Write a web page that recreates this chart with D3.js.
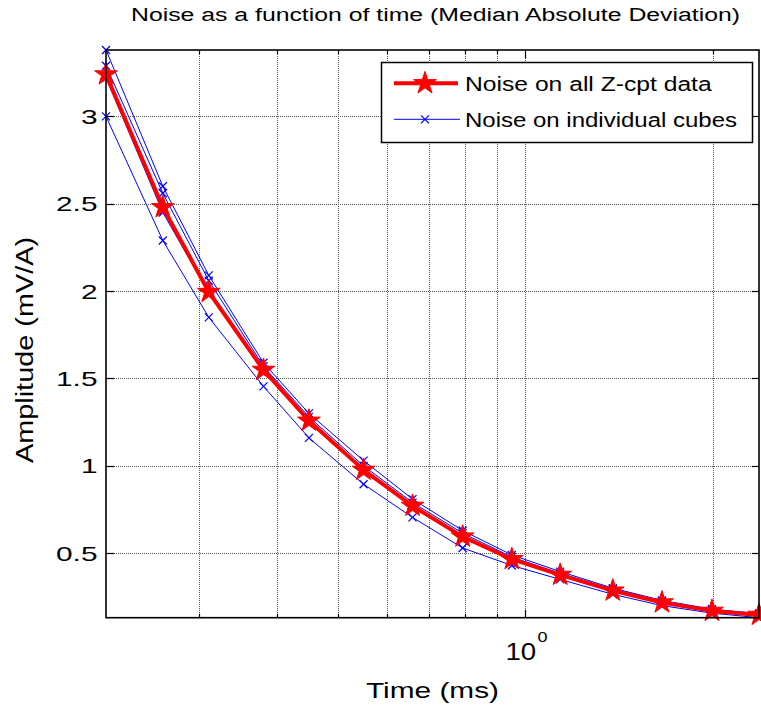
<!DOCTYPE html>
<html>
<head>
<meta charset="utf-8">
<script src="https://cdn.jsdelivr.net/npm/d3@7"></script>
<style>
  html, body { margin: 0; padding: 0; background: #fff; }
  svg { display: block; font-family: "Liberation Sans", Arial, Helvetica, sans-serif; }
</style>
</head>
<body>
<svg id="chart" width="761" height="706"></svg>
<script>
// ---- data ----
const times = [0.2124, 0.262, 0.3105, 0.380, 0.4495, 0.550, 0.659, 0.793, 0.951, 1.137, 1.381, 1.656, 1.992, 2.37];
const noiseAll = [3.24, 2.48, 1.995, 1.549, 1.258, 0.977, 0.771, 0.595, 0.466, 0.376, 0.286, 0.218, 0.170, 0.147];
const cube1 = [3.38, 2.60, 2.09, 1.59, 1.30, 1.03, 0.81, 0.63, 0.49, 0.395, 0.30, 0.23, 0.18, 0.155];
const cube2 = [3.29, 2.56, 2.06, 1.57, 1.28, 1.00, 0.79, 0.615, 0.478, 0.385, 0.294, 0.224, 0.175, 0.151];
const cube3 = [3.22, 2.45, 1.99, 1.55, 1.25, 0.975, 0.772, 0.598, 0.466, 0.376, 0.285, 0.217, 0.169, 0.146];
const cube4 = [3.00, 2.29, 1.85, 1.455, 1.16, 0.895, 0.705, 0.53, 0.43, 0.35, 0.265, 0.20, 0.157, 0.131];
const cubes = [cube1, cube2, cube3, cube4];
const yTicks = [0.5, 1, 1.5, 2, 2.5, 3];
const yTickLabels = ["0.5", "1", "1.5", "2", "2.5", "3"];
const xMinorTicks = [0.3, 0.4, 0.5, 0.6, 0.7, 0.8, 0.9, 2];
const xMajorTicks = [1];
const titleText = "Noise as a function of time (Median Absolute Deviation)";
const xLabelText = "Time (ms)";
const yLabelText = "Amplitude (mV/A)";
const legendLabels = ["Noise on all Z-cpt data", "Noise on individual cubes"];

// ---- layout ----
const L = 106, R = 759, T = 50, B = 617.7;
const svg = d3.select("#chart");
const allVals = noiseAll.concat(...cubes);
const x = d3.scaleLog().domain([times[0], times[times.length - 1]]).range([L, R]);
const y = d3.scaleLinear().domain([d3.min(allVals), d3.max(allVals)]).range([B, T]);

function stretch(sel, f, target) {
  sel.each(function () {
    const len = this.getComputedTextLength();
    this.setAttribute("textLength", target ? target : len * f);
    this.setAttribute("lengthAdjust", "spacingAndGlyphs");
  });
}

// grid
const grid = svg.append("g").attr("stroke", "#555").attr("stroke-width", 1).attr("stroke-dasharray", "1,1");
grid.selectAll("line.gx").data(xMinorTicks.concat(xMajorTicks)).join("line")
  .attr("x1", d => Math.round(x(d)) + 0.5).attr("x2", d => Math.round(x(d)) + 0.5)
  .attr("y1", T).attr("y2", B);
grid.selectAll("line.gy").data(yTicks).join("line")
  .attr("y1", d => Math.round(y(d)) + 0.5).attr("y2", d => Math.round(y(d)) + 0.5)
  .attr("x1", L).attr("x2", R);

// ticks
const tk = svg.append("g").attr("stroke", "#000").attr("stroke-width", 1.2);
yTicks.forEach(v => {
  const yy = Math.round(y(v)) + 0.5;
  tk.append("line").attr("x1", L).attr("x2", L + 8).attr("y1", yy).attr("y2", yy);
  tk.append("line").attr("x1", R - 7).attr("x2", R).attr("y1", yy).attr("y2", yy);
});
xMinorTicks.forEach(v => {
  const xx = Math.round(x(v)) + 0.5;
  tk.append("line").attr("x1", xx).attr("x2", xx).attr("y1", B).attr("y2", B - 4);
  tk.append("line").attr("x1", xx).attr("x2", xx).attr("y1", T).attr("y2", T + 4);
});
xMajorTicks.forEach(v => {
  const xx = Math.round(x(v)) + 0.5;
  tk.append("line").attr("x1", xx).attr("x2", xx).attr("y1", B).attr("y2", B - 8);
  tk.append("line").attr("x1", xx).attr("x2", xx).attr("y1", T).attr("y2", T + 8);
});

// data lines
const line = d3.line().x((d, i) => x(times[i])).y(d => y(d));
const plot = svg.append("g");
cubes.forEach(c => {
  plot.append("path").datum(c).attr("d", line).attr("fill", "none").attr("stroke", "#0000ff").attr("stroke-width", 1);
  const g = plot.append("g").attr("stroke", "#0000ff").attr("stroke-width", 1.2);
  c.forEach((v, i) => {
    const cx = x(times[i]), cy = y(v), s = 4;
    g.append("line").attr("x1", cx - s).attr("x2", cx + s).attr("y1", cy - s).attr("y2", cy + s);
    g.append("line").attr("x1", cx - s).attr("x2", cx + s).attr("y1", cy + s).attr("y2", cy - s);
  });
});
plot.append("path").datum(noiseAll).attr("d", line).attr("fill", "none")
  .attr("stroke", "#ff0000").attr("stroke-width", 4).attr("stroke-linejoin", "round");
const star = d3.symbol().type(d3.symbolStar).size(160);
plot.selectAll("path.star").data(noiseAll).join("path")
  .attr("transform", (d, i) => `translate(${x(times[i])},${y(d)})`)
  .attr("d", star).attr("fill", "#ff0000").attr("stroke", "#ff0000").attr("stroke-width", 1);

// axes box
svg.append("rect").attr("x", L).attr("y", T).attr("width", R - L).attr("height", B - T)
  .attr("fill", "none").attr("stroke", "#000").attr("stroke-width", 1.6);

// y tick labels
svg.selectAll("text.yt").data(yTicks).join("text")
  .attr("x", 97.5).attr("y", d => y(d)).attr("dy", "0.36em")
  .attr("text-anchor", "end").attr("font-size", 21).attr("fill", "#000")
  .text((d, i) => yTickLabels[i]).call(stretch, 1.42);

// x tick label 10^0
xMajorTicks.forEach(v => {
  const xx = x(v);
  svg.append("text").attr("x", xx - 20).attr("y", 660).attr("font-size", 23)
    .text("10").call(stretch, 1.2);
  svg.append("text").attr("x", xx + 12).attr("y", 642).attr("font-size", 15)
    .text(String(Math.round(Math.log10(v)))).call(stretch, 1.2);
});

// labels
svg.append("text").attr("x", (L + R) / 2).attr("y", 698).attr("text-anchor", "middle")
  .attr("font-size", 22).text(xLabelText).call(stretch, 1, 133);
svg.append("text").attr("transform", `translate(33,350) rotate(-90)`)
  .attr("text-anchor", "middle").attr("font-size", 23).text(yLabelText).call(stretch, 1, 226);
svg.append("text").attr("x", 435.5).attr("y", 21).attr("text-anchor", "middle")
  .attr("font-size", 18).text(titleText).call(stretch, 1, 609);

// legend
const lg = svg.append("g");
lg.append("rect").attr("x", 381.5).attr("y", 62.5).attr("width", 371).attr("height", 80)
  .attr("fill", "#fff").attr("stroke", "#000").attr("stroke-width", 1.5);
const ly = [83.3, 119.3];
lg.append("line").attr("x1", 394).attr("x2", 458).attr("y1", ly[0]).attr("y2", ly[0])
  .attr("stroke", "#ff0000").attr("stroke-width", 4);
lg.append("path").attr("transform", `translate(425,${ly[0]})`).attr("d", star)
  .attr("fill", "#ff0000").attr("stroke", "#ff0000");
lg.append("line").attr("x1", 394).attr("x2", 460).attr("y1", ly[1]).attr("y2", ly[1])
  .attr("stroke", "#0000ff").attr("stroke-width", 1);
lg.append("line").attr("x1", 421).attr("x2", 429).attr("y1", ly[1] - 4).attr("y2", ly[1] + 4)
  .attr("stroke", "#0000ff").attr("stroke-width", 1.2);
lg.append("line").attr("x1", 421).attr("x2", 429).attr("y1", ly[1] + 4).attr("y2", ly[1] - 4)
  .attr("stroke", "#0000ff").attr("stroke-width", 1.2);
lg.append("text").attr("x", 465).attr("y", 90.7).attr("font-size", 20).text(legendLabels[0]).call(stretch, 1, 246.7);
lg.append("text").attr("x", 465).attr("y", 127).attr("font-size", 20).text(legendLabels[1]).call(stretch, 1, 272);
</script>
</body>
</html>
